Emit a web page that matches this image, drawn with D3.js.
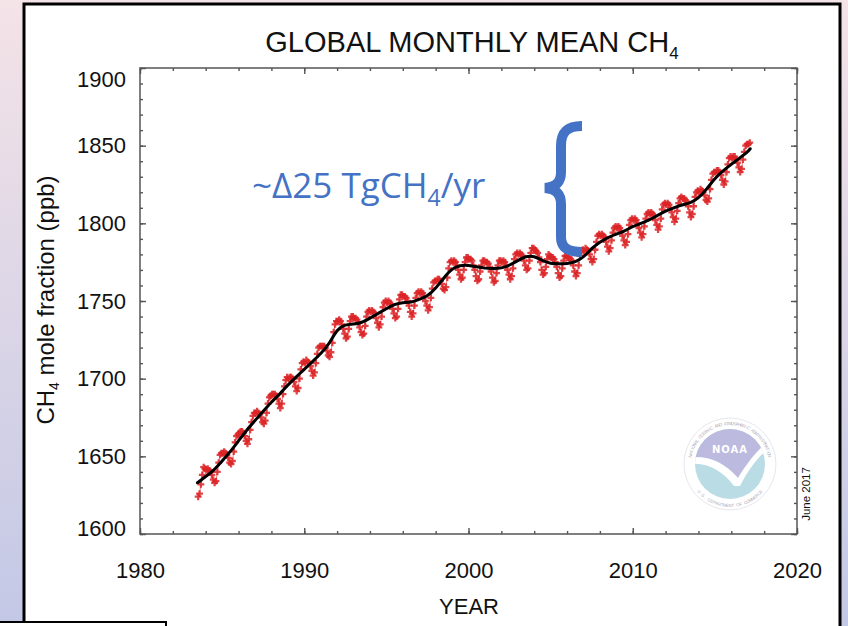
<!DOCTYPE html>
<html>
<head>
<meta charset="utf-8">
<script src="https://cdn.jsdelivr.net/npm/d3@7"></script>
<style>
  html, body { margin: 0; padding: 0; }
  body { width: 848px; height: 626px; overflow: hidden; }
  svg { display: block; }
  .axis text { font-family: "Liberation Sans", Arial, Helvetica, sans-serif; font-size: 22px; fill: #111; }
  .axis line { stroke: #555; stroke-width: 1.4; }
  .lbl { font-family: "Liberation Sans", Arial, Helvetica, sans-serif; fill: #111; }
</style>
</head>
<body>
<svg id="chart" width="848" height="626"></svg>
<script>
// global monthly means (ppb), one row per calendar year; first row starts in July
var rowYears = [1983, 1984, 1985, 1986, 1987, 1988, 1989, 1990, 1991, 1992, 1993, 1994,
  1995, 1996, 1997, 1998, 1999, 2000, 2001, 2002, 2003, 2004, 2005, 2006, 2007, 2008,
  2009, 2010, 2011, 2012, 2013, 2014, 2015, 2016, 2017];
var firstMonth = 7;
var monthlyCH4 = [
  [1624, 1626, 1632, 1638, 1643, 1642],
  [1641, 1642, 1641, 1640, 1638, 1635, 1633, 1634, 1640, 1646, 1651, 1652],
  [1652, 1653, 1652, 1651, 1649, 1646, 1645, 1647, 1653, 1659, 1663, 1664],
  [1665, 1666, 1666, 1665, 1663, 1660, 1658, 1661, 1667, 1672, 1676, 1678],
  [1678, 1679, 1678, 1677, 1675, 1672, 1671, 1673, 1678, 1684, 1688, 1689],
  [1690, 1690, 1690, 1689, 1687, 1684, 1681, 1684, 1690, 1695, 1699, 1701],
  [1700, 1701, 1701, 1700, 1698, 1695, 1692, 1694, 1700, 1706, 1710, 1711],
  [1710, 1712, 1711, 1710, 1708, 1705, 1702, 1704, 1710, 1716, 1720, 1721],
  [1721, 1721, 1721, 1720, 1718, 1715, 1714, 1717, 1723, 1730, 1735, 1737],
  [1737, 1738, 1737, 1735, 1732, 1729, 1726, 1727, 1732, 1737, 1740, 1740],
  [1739, 1739, 1738, 1736, 1733, 1730, 1728, 1729, 1734, 1740, 1743, 1744],
  [1743, 1744, 1743, 1742, 1739, 1736, 1733, 1735, 1740, 1746, 1749, 1750],
  [1749, 1750, 1749, 1748, 1745, 1742, 1739, 1740, 1745, 1751, 1754, 1754],
  [1753, 1753, 1752, 1750, 1747, 1743, 1740, 1742, 1747, 1752, 1755, 1756],
  [1755, 1756, 1755, 1753, 1750, 1747, 1744, 1746, 1752, 1758, 1762, 1763],
  [1763, 1764, 1764, 1763, 1761, 1758, 1757, 1759, 1765, 1771, 1775, 1776],
  [1775, 1776, 1775, 1773, 1770, 1767, 1764, 1765, 1770, 1775, 1778, 1778],
  [1777, 1777, 1776, 1773, 1770, 1766, 1763, 1764, 1769, 1773, 1776, 1776],
  [1775, 1775, 1774, 1772, 1769, 1765, 1762, 1763, 1768, 1773, 1776, 1776],
  [1775, 1776, 1775, 1773, 1770, 1767, 1764, 1766, 1771, 1777, 1780, 1781],
  [1780, 1781, 1780, 1779, 1776, 1773, 1770, 1771, 1776, 1781, 1784, 1784],
  [1783, 1782, 1781, 1778, 1775, 1770, 1767, 1768, 1772, 1777, 1780, 1779],
  [1778, 1778, 1777, 1775, 1772, 1768, 1765, 1766, 1771, 1776, 1779, 1779],
  [1778, 1778, 1777, 1776, 1773, 1769, 1766, 1768, 1773, 1779, 1782, 1783],
  [1782, 1784, 1783, 1782, 1780, 1777, 1775, 1777, 1783, 1788, 1792, 1793],
  [1792, 1793, 1792, 1791, 1788, 1785, 1782, 1784, 1789, 1794, 1797, 1798],
  [1797, 1798, 1797, 1795, 1792, 1789, 1786, 1788, 1793, 1799, 1802, 1803],
  [1802, 1803, 1802, 1800, 1797, 1794, 1791, 1793, 1798, 1803, 1806, 1807],
  [1806, 1807, 1806, 1805, 1802, 1799, 1796, 1798, 1803, 1809, 1812, 1813],
  [1812, 1813, 1812, 1810, 1807, 1804, 1801, 1803, 1808, 1813, 1816, 1817],
  [1816, 1816, 1815, 1814, 1811, 1807, 1804, 1806, 1811, 1817, 1820, 1821],
  [1820, 1822, 1821, 1820, 1818, 1815, 1814, 1816, 1822, 1828, 1832, 1833],
  [1833, 1834, 1834, 1833, 1831, 1828, 1825, 1827, 1833, 1838, 1842, 1843],
  [1842, 1843, 1843, 1841, 1839, 1836, 1833, 1835, 1841, 1846, 1850, 1851],
  [1851, 1852]
];

// deseasonalized trend (black curve)
var trendYears = [1983.5, 1984, 1984.5, 1985, 1985.5, 1986, 1986.5, 1987, 1987.5, 1988,
  1988.5, 1989, 1989.5, 1990, 1990.5, 1991, 1991.5, 1992, 1992.5, 1993, 1993.5, 1994,
  1994.5, 1995, 1995.5, 1996, 1996.5, 1997, 1997.5, 1998, 1998.5, 1999, 1999.5, 2000,
  2000.5, 2001, 2001.5, 2002, 2002.5, 2003, 2003.5, 2004, 2004.5, 2005, 2005.5, 2006,
  2006.5, 2007, 2007.5, 2008, 2008.5, 2009, 2009.5, 2010, 2010.5, 2011, 2011.5, 2012,
  2012.5, 2013, 2013.5, 2014, 2014.5, 2015, 2015.5, 2016, 2016.5, 2017, 2017.15];
var trendCH4 = [1633, 1637, 1641, 1647, 1653, 1660, 1667, 1673, 1679, 1685,
  1690, 1696, 1701, 1706, 1711, 1716, 1722, 1732, 1735, 1735, 1736, 1739,
  1742, 1745, 1748, 1749, 1749, 1751, 1753, 1758, 1765, 1771, 1773, 1773,
  1772, 1771, 1771, 1771, 1773, 1776, 1779, 1779, 1776, 1774, 1774, 1774,
  1775, 1778, 1784, 1788, 1791, 1793, 1795, 1798, 1800, 1802, 1805, 1808,
  1810, 1812, 1813, 1816, 1822, 1829, 1834, 1838, 1842, 1846, 1848];

var xTickYears = [1980, 1990, 2000, 2010, 2020];
var yTickValues = [1600, 1650, 1700, 1750, 1800, 1850, 1900];

(function(d3){
  "use strict";

  var W = 848, H = 626;
  var box = {left: 140, right: 797, top: 68, bottom: 534};

  var svg = d3.select("#chart");
  var defs = svg.append("defs");

  // slide background
  var bg = defs.append("linearGradient").attr("id", "bg")
    .attr("x1", 0).attr("y1", 0).attr("x2", 0).attr("y2", 1);
  bg.append("stop").attr("offset", "0%").attr("stop-color", "#f4e3e7");
  bg.append("stop").attr("offset", "100%").attr("stop-color", "#c3c8e6");
  svg.append("rect").attr("width", W).attr("height", H).attr("fill", "url(#bg)");

  svg.append("rect").attr("x", 24).attr("y", 4).attr("width", 816).attr("height", 660)
    .attr("fill", "#fff").attr("stroke", "#000").attr("stroke-width", 3);

  var x = d3.scaleLinear().domain([1980, 2020]).range([box.left, box.right]);
  var y = d3.scaleLinear().domain([1600, 1900]).range([box.bottom, box.top]);

  function noDomain(g){ g.select(".domain").remove(); }

  // minor ticks, all four sides, pointing inward
  svg.append("g").attr("class", "axis").attr("transform", "translate(0," + box.bottom + ")")
    .call(d3.axisBottom(x).tickValues(x.ticks(20)).tickSizeInner(-3).tickSizeOuter(0).tickFormat(""))
    .call(noDomain);
  svg.append("g").attr("class", "axis").attr("transform", "translate(0," + box.top + ")")
    .call(d3.axisTop(x).tickValues(x.ticks(20)).tickSizeInner(-3).tickSizeOuter(0).tickFormat(""))
    .call(noDomain);
  svg.append("g").attr("class", "axis").attr("transform", "translate(" + box.left + ",0)")
    .call(d3.axisLeft(y).tickValues(y.ticks(30)).tickSizeInner(-3).tickSizeOuter(0).tickFormat(""))
    .call(noDomain);
  svg.append("g").attr("class", "axis").attr("transform", "translate(" + box.right + ",0)")
    .call(d3.axisRight(y).tickValues(y.ticks(30)).tickSizeInner(-3).tickSizeOuter(0).tickFormat(""))
    .call(noDomain);

  // major ticks + labels
  svg.append("g").attr("class", "axis").attr("transform", "translate(0," + box.bottom + ")")
    .call(d3.axisBottom(x).tickValues(xTickYears).tickSizeInner(-6).tickSizeOuter(0)
      .tickPadding(28).tickFormat(d3.format("d")))
    .call(noDomain);
  svg.append("g").attr("class", "axis").attr("transform", "translate(0," + box.top + ")")
    .call(d3.axisTop(x).tickValues(xTickYears).tickSizeInner(-6).tickSizeOuter(0).tickFormat(""))
    .call(noDomain);
  var yAxis = svg.append("g").attr("class", "axis").attr("transform", "translate(" + box.left + ",0)")
    .call(d3.axisLeft(y).tickValues(yTickValues).tickSizeInner(-6).tickSizeOuter(0)
      .tickPadding(14).tickFormat(d3.format("d")))
    .call(noDomain);
  // end labels are pulled inside the box like the original plot
  yAxis.selectAll(".tick text").attr("dy", function(d){
    return d === 1900 ? "0.82em" : d === 1600 ? "0.05em" : "0.32em";
  });
  svg.append("g").attr("class", "axis").attr("transform", "translate(" + box.right + ",0)")
    .call(d3.axisRight(y).tickValues(yTickValues).tickSizeInner(-6).tickSizeOuter(0).tickFormat(""))
    .call(noDomain);

  svg.append("rect").attr("x", box.left).attr("y", box.top)
    .attr("width", box.right - box.left).attr("height", box.bottom - box.top)
    .attr("fill", "none").attr("stroke", "#555").attr("stroke-width", 1.5);

  // NOAA logo (faded)
  var logo = svg.append("g").attr("transform", "translate(730,464)").attr("opacity", 0.72);
  logo.append("circle").attr("r", 46).attr("fill", "#fff").attr("stroke", "#d4d4e2").attr("stroke-width", 0.8);

  // ring lettering, one glyph at a time
  function ringText(str, r, a0, a1, bottom){
    var n = str.length;
    str.split("").forEach(function(ch, i){
      var a = (a0 + (i + 0.5) * (a1 - a0) / n) * Math.PI / 180;
      var rot = a * 180 / Math.PI + (bottom ? -90 : 90);
      logo.append("text")
        .attr("transform", "translate(" + (r * Math.cos(a)) + "," + (r * Math.sin(a)) + ") rotate(" + rot + ")")
        .attr("text-anchor", "middle").attr("dy", bottom ? "0" : "0.7em")
        .attr("font-family", "Liberation Sans, Arial, sans-serif")
        .attr("font-size", 4.4).attr("fill", "#8f8fa8").text(ch);
    });
  }
  ringText("NATIONAL OCEANIC AND ATMOSPHERIC ADMINISTRATION", 42, -170, -10, false);
  ringText("U.S. DEPARTMENT OF COMMERCE", 43, 140, 40, true);

  defs.append("clipPath").attr("id", "disc").append("circle").attr("r", 35);
  var disc = logo.append("g").attr("clip-path", "url(#disc)");
  disc.append("rect").attr("x", -36).attr("y", -36).attr("width", 72).attr("height", 72).attr("fill", "#9fcfdc");
  disc.append("path").attr("d", "M-40,-40 H40 V-22 C30,-18 18,-2 8,14 C-2,2 -20,-10 -40,-6 Z")
    .attr("fill", "#a3a0d3");
  disc.append("path").attr("d", "M-40,-6 C-20,-10 -2,2 8,14 C18,-2 30,-18 40,-22 L40,-16 C30,-10 18,6 10,22 L4,22 C-6,8 -22,-2 -40,0 Z")
    .attr("fill", "#fff");
  logo.append("text").attr("y", -11).attr("text-anchor", "middle")
    .attr("font-family", "DejaVu Sans, sans-serif").attr("font-weight", "bold")
    .attr("font-size", 10).attr("letter-spacing", 1).attr("fill", "#fff").text("NOAA");

  // monthly points
  var points = [];
  rowYears.forEach(function(yr, i){
    var m0 = i === 0 ? firstMonth : 1;
    monthlyCH4[i].forEach(function(v, j){
      points.push({t: yr + (m0 + j - 0.5) / 12, v: v});
    });
  });

  var line = d3.line().x(function(d){ return x(d.t); }).y(function(d){ return y(d.v); });

  svg.append("path").datum(points).attr("d", line)
    .attr("fill", "none").attr("stroke", "#e2383c").attr("stroke-width", 0.9).attr("opacity", 0.7);

  svg.selectAll("path.mark").data(points).enter().append("path")
    .attr("class", "mark")
    .attr("d", d3.symbol(d3.symbolCross, 26))
    .attr("transform", function(d){ return "translate(" + x(d.t) + "," + y(d.v) + ")"; })
    .attr("fill", "#dc2326").attr("opacity", 0.85);

  var trend = trendYears.map(function(t, i){ return {t: t, v: trendCH4[i]}; });
  svg.append("path").datum(trend).attr("d", line.curve(d3.curveBasis))
    .attr("fill", "none").attr("stroke", "#000").attr("stroke-width", 3)
    .attr("stroke-linecap", "round").attr("stroke-linejoin", "round");

  // titles
  var title = svg.append("text").attr("class", "lbl").attr("x", 472).attr("y", 52)
    .attr("text-anchor", "middle").attr("font-size", 29);
  title.append("tspan").text("GLOBAL MONTHLY MEAN CH");
  title.append("tspan").attr("font-size", 17).attr("dy", 7).text("4");

  svg.append("text").attr("class", "lbl").attr("x", 469).attr("y", 614)
    .attr("text-anchor", "middle").attr("font-size", 22).text("YEAR");

  var ylab = svg.append("text").attr("class", "lbl")
    .attr("transform", "translate(54," + 300 + ") rotate(-90)")
    .attr("text-anchor", "middle").attr("font-size", 24);
  ylab.append("tspan").text("CH");
  ylab.append("tspan").attr("font-size", 14).attr("dy", 5).text("4");
  ylab.append("tspan").attr("dy", -5).text(" mole fraction (ppb)");

  svg.append("text").attr("class", "lbl")
    .attr("transform", "translate(810,494) rotate(-90)")
    .attr("text-anchor", "middle").attr("font-size", 11.5).text("June 2017");

  // annotation
  var ann = svg.append("text").attr("x", 252).attr("y", 198)
    .attr("font-family", "'Open Sans', Lato, sans-serif").attr("font-size", 35).attr("fill", "#4472c4");
  ann.append("tspan").text("~\u039425 TgCH");
  ann.append("tspan").attr("font-size", 23).attr("dy", 8).text("4");
  ann.append("tspan").attr("dy", -8).text("/yr");

  svg.append("path")
    .attr("d", "M582,126 C567,126 561,132 561,146 L561,172 C561,182 556,187 545,188 C556,189 561,194 561,204 L561,237 C561,247 567,252 582,252")
    .attr("fill", "none").attr("stroke", "#4472c4").attr("stroke-width", 10);

  // corner of the next box on the slide
  svg.append("rect").attr("x", -3).attr("y", 622).attr("width", 169).attr("height", 20)
    .attr("fill", "#fff").attr("stroke", "#000").attr("stroke-width", 2);
})(d3);
</script>
</body>
</html>
